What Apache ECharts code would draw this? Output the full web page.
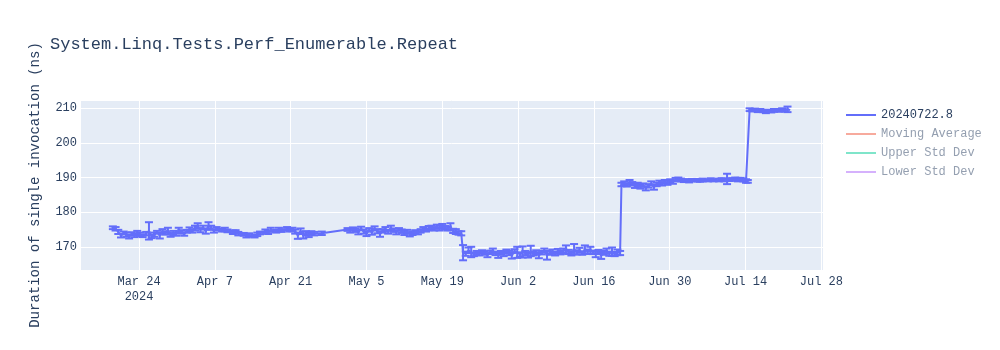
<!DOCTYPE html>
<html>
<head>
<meta charset="utf-8">
<script src="https://cdn.jsdelivr.net/npm/echarts@6/dist/echarts.min.js"></script>
<style>
html,body{margin:0;padding:0;background:#fff;}
#chart{width:1000px;height:350px;}
</style>
</head>
<body>
<div id="chart"></div>
<script>
// ---- DATA ----
const chartTitle = 'System.Linq.Tests.Perf_Enumerable.Repeat';
const yAxisTitle = 'Duration of single invocation (ns)';
const legendNames = ['20240722.8', 'Moving Average', 'Upper Std Dev', 'Lower Std Dev'];
const monthNames = ['Jan','Feb','Mar','Apr','May','Jun','Jul','Aug','Sep','Oct','Nov','Dec'];
const tickYear = '2024';

// timestamps "MM-DD HH" (2024)
const dates = [
 '03-19 04','03-19 16','03-20 04','03-20 16','03-21 04','03-21 16','03-22 04','03-22 16','03-23 04','03-23 16',
 '03-24 04','03-24 16','03-25 08','03-25 20','03-26 08','03-26 20','03-27 08','03-27 20','03-28 08','03-28 20',
 '03-29 08','03-29 20','03-30 08','03-30 20','03-31 08','03-31 20','04-01 08','04-01 20','04-02 08','04-02 20',
 '04-03 08','04-03 20','04-04 08','04-04 20','04-05 08','04-05 20','04-06 08','04-06 20','04-07 08','04-08 08',
 '04-08 20','04-09 08','04-10 08','04-10 20','04-11 08','04-12 08','04-12 20','04-13 08','04-14 08','04-14 20',
 '04-15 08','04-16 08','04-16 20','04-17 08','04-18 08','04-18 20','04-19 08','04-20 08','04-20 20','04-21 08',
 '04-21 20','04-22 08','04-22 20','04-23 08','04-23 20','04-24 08','04-24 20','04-25 08','04-26 18',
 '05-01 12','05-02 00','05-02 12','05-03 00','05-03 12','05-04 00','05-04 12','05-05 00','05-05 12','05-06 00',
 '05-06 12','05-07 00','05-07 12','05-08 00','05-08 12','05-09 00','05-09 12','05-10 00','05-10 12','05-11 00',
 '05-11 12','05-12 00','05-12 12','05-13 00','05-13 12','05-14 00','05-14 12','05-15 00','05-15 12','05-16 00',
 '05-16 12','05-17 00','05-17 12','05-18 00','05-18 12','05-19 00','05-19 12','05-20 00','05-20 12','05-21 00',
 '05-21 12','05-22 00','05-22 12','05-22 20','05-23 08','05-23 20','05-24 08','05-24 20','05-25 08','05-25 20',
 '05-26 08','05-26 20','05-27 08','05-27 20','05-28 08','05-28 20','05-29 08','05-29 20','05-30 08','05-30 20',
 '05-31 08','05-31 20','06-01 08','06-01 20','06-02 08','06-02 20','06-03 08','06-03 20','06-04 08','06-04 20',
 '06-05 08','06-05 20','06-06 08','06-06 20','06-07 08','06-07 20','06-08 08','06-08 20','06-09 08','06-09 20',
 '06-10 08','06-10 20','06-11 08','06-11 20','06-12 08','06-12 20','06-13 08','06-13 20','06-14 08','06-14 20',
 '06-15 08','06-15 20','06-16 08','06-16 20','06-17 08','06-17 20','06-18 08','06-18 20','06-19 08','06-19 20',
 '06-20 08','06-20 20','06-21 02','06-21 14','06-22 02','06-22 14','06-23 02','06-23 14','06-24 02','06-24 14',
 '06-25 02','06-25 14','06-26 02','06-26 14','06-27 02','06-27 14','06-28 02','06-28 14','06-29 02','06-29 14',
 '06-30 02','06-30 14','07-01 02','07-01 14','07-02 02','07-02 14','07-03 02','07-03 14','07-04 02','07-05 02',
 '07-05 14','07-06 02','07-07 02','07-07 14','07-08 02','07-09 02','07-09 14','07-10 02','07-10 14','07-11 02',
 '07-11 14','07-12 02','07-12 14','07-13 02','07-13 14','07-14 02','07-14 10','07-14 18','07-15 06','07-15 18',
 '07-16 06','07-16 18','07-17 06','07-17 18','07-18 06','07-18 18','07-19 06','07-19 18','07-20 06','07-20 18',
 '07-21 06','07-21 18','07-22 06'
];

const values = [
 175.5,175.2,174.3,173.2,174.0,173.5,172.9,173.8,173.3,174.0,
 173.6,173.2,173.8,174.6,173.0,173.5,174.2,173.2,174.5,174.0,
 174.8,173.4,174.0,173.6,174.9,174.3,173.7,174.5,175.0,174.6,
 175.4,176.0,174.8,175.6,174.4,176.2,175.5,174.6,175.2,174.8,
 175.0,174.6,174.2,174.4,173.8,173.6,173.2,173.4,173.1,173.6,
 174.0,174.5,174.2,174.9,174.5,175.0,174.7,175.2,174.8,175.0,
 174.4,173.2,174.5,173.4,173.9,173.5,174.0,173.8,173.9,
 175.0,174.6,175.2,174.8,174.2,175.3,174.4,173.8,174.9,174.1,
 175.4,174.5,173.7,174.6,175.1,174.3,175.5,174.8,174.2,175.0,
 174.5,174.0,174.4,173.6,173.9,174.3,174.0,174.6,175.2,174.8,
 175.4,175.6,175.2,175.8,175.4,176.0,175.5,175.3,175.8,174.6,
 174.4,174.0,173.9,168.3,168.0,169.0,168.5,167.8,168.2,168.0,
 168.6,168.2,167.6,168.4,168.9,168.1,167.5,168.3,167.9,168.7,
 168.2,167.4,168.8,168.4,167.8,168.5,168.2,167.6,168.8,168.0,
 168.4,167.5,168.3,168.9,167.6,168.2,168.6,168.0,168.7,168.3,
 168.9,169.2,168.5,168.0,169.3,168.4,169.0,168.2,169.2,168.6,
 169.0,168.4,167.8,168.5,167.5,168.3,168.8,168.0,168.6,167.9,
 168.4,168.2,188.0,188.3,187.9,188.6,188.2,187.6,188.0,187.4,
 187.8,186.9,187.6,188.3,187.2,188.0,188.5,188.2,188.8,188.5,
 189.0,188.7,189.4,189.6,189.3,189.1,189.2,189.0,189.3,189.2,
 189.1,189.3,189.2,189.4,189.2,189.3,189.5,189.3,189.6,189.4,
 189.5,189.6,189.4,189.5,189.3,189.0,188.9,209.6,209.4,209.6,
 209.3,209.5,209.2,209.0,209.3,209.1,209.4,209.5,209.3,209.6,
 209.4,209.7,209.5
];

const errors = [
 0.4,0.5,0.6,0.5,0.4,0.6,0.5,0.4,0.5,0.6,
 0.5,0.4,0.5,2.5,0.5,0.6,0.4,0.8,0.6,0.5,
 0.7,0.5,0.6,0.4,0.6,0.5,0.5,0.4,0.6,0.5,
 0.7,0.8,0.6,0.5,0.6,0.9,0.6,0.5,0.5,0.4,
 0.5,0.4,0.5,0.4,0.5,0.4,0.5,0.5,0.4,0.5,
 0.4,0.5,0.5,0.6,0.4,0.5,0.4,0.5,0.4,0.5,
 0.6,0.9,0.8,1.0,0.6,0.7,0.5,0.5,0.5,
 0.4,0.5,0.4,0.5,0.6,0.5,0.6,0.7,0.5,0.6,
 0.5,0.6,0.8,0.5,0.6,0.5,0.6,0.5,0.6,0.4,
 0.5,0.6,0.5,0.6,0.5,0.5,0.4,0.5,0.5,0.4,
 0.6,0.5,0.5,0.6,0.7,0.6,0.5,0.6,1.0,0.6,
 0.7,0.5,0.6,2.2,0.6,0.8,1.5,0.5,0.6,0.5,
 0.4,0.5,0.6,0.5,0.6,0.5,0.7,0.5,0.6,0.5,
 0.6,0.8,0.5,1.6,0.6,1.6,0.6,0.7,1.5,0.5,
 0.6,0.8,0.5,0.6,1.3,0.5,0.6,0.5,0.7,0.5,
 0.6,1.2,0.6,0.5,1.5,0.6,0.7,0.5,1.2,0.6,
 1.0,0.5,0.8,0.6,1.0,0.6,0.7,0.6,1.2,0.6,
 0.8,0.6,0.5,0.6,0.5,0.7,0.5,0.6,0.5,0.6,
 0.5,0.6,0.5,0.6,0.7,0.5,0.6,0.5,0.5,0.6,
 0.5,0.5,0.5,0.4,0.4,0.4,0.3,0.4,0.3,0.4,
 0.3,0.4,0.3,0.4,0.3,0.4,0.3,0.4,1.5,0.4,
 0.3,0.4,0.5,0.4,0.4,0.5,0.4,0.4,0.3,0.3,
 0.4,0.3,0.3,0.4,0.3,0.3,0.4,0.3,0.3,
 0.4,0.3,0.8
];

// ---- BUILD ----
const ORIGIN = Date.UTC(2024, 2, 24); // Mar 24 2024 (tick origin)
const DAY = 86400000;
function toDays(s) {
  const m = +s.slice(0,2), d = +s.slice(3,5), h = +s.slice(6,8);
  return (Date.UTC(2024, m-1, d, h) - ORIGIN) / DAY;
}
const pts = dates.map((s, i) => [toDays(s), values[i], errors[i]]);

const FONT = '"Liberation Mono", "Courier New", monospace';
const TXT = '#2a3f5f';
const MAIN = '#636efa';

const chart = echarts.init(document.getElementById('chart'), null, {renderer: 'canvas'});
chart.setOption({
  animation: false,
  backgroundColor: '#fff',
  title: {
    text: chartTitle, left: 50, top: 36, padding: 0,
    textStyle: {fontFamily: FONT, fontSize: 17, fontWeight: 'normal', color: TXT}
  },
  legend: {
    orient: 'vertical', left: 846, top: 108, padding: 0,
    itemWidth: 30, itemHeight: 2, itemGap: 5,
    icon: 'rect',
    textStyle: {fontFamily: FONT, fontSize: 12, color: TXT, lineHeight: 14, padding: [0,0,0,0]},
    selectedMode: false,
    data: [
      {name: legendNames[0], itemStyle: {color: MAIN}},
      {name: legendNames[1], itemStyle: {color: '#f7aa9d'}, textStyle: {color: '#949fb0'}},
      {name: legendNames[2], itemStyle: {color: '#7fe5ca'}, textStyle: {color: '#949fb0'}},
      {name: legendNames[3], itemStyle: {color: '#d5b1fc'}, textStyle: {color: '#949fb0'}}
    ]
  },
  grid: {left: 80, right: 177, top: 100, bottom: 80, show: true, backgroundColor: '#E5ECF6', borderWidth: 0},
  xAxis: {
    type: 'value', min: -10.9, max: 126.3, minInterval: 14, maxInterval: 14, splitNumber: 5,
    axisLine: {show: false}, axisTick: {show: false},
    splitLine: {show: true, lineStyle: {color: '#fff', width: 1}},
    axisLabel: {
      fontFamily: FONT, fontSize: 12, color: TXT, margin: 4, lineHeight: 15,
      showMinLabel: false, showMaxLabel: false,
      formatter: function (v) {
        const dt = new Date(ORIGIN + Math.round(v) * DAY);
        const s = monthNames[dt.getUTCMonth()] + ' ' + dt.getUTCDate();
        return Math.round(v) === 0 ? s + '\n' + tickYear : s;
      }
    }
  },
  yAxis: {
    type: 'value', min: 163.3, max: 212.4, splitNumber: 5,
    name: yAxisTitle, nameLocation: 'middle', nameGap: 38, nameRotate: 90,
    nameTextStyle: {fontFamily: FONT, fontSize: 14, color: TXT},
    axisLine: {show: false}, axisTick: {show: false},
    splitLine: {show: true, lineStyle: {color: '#fff', width: 1}},
    axisLabel: {fontFamily: FONT, fontSize: 12, color: TXT, margin: 3, showMinLabel: false, showMaxLabel: false}
  },
  series: [
    {
      name: legendNames[0], type: 'line', data: pts.map(p => [p[0], p[1]]),
      symbol: 'none', lineStyle: {color: MAIN, width: 2}, itemStyle: {color: MAIN}, z: 3
    },
    {
      name: 'errbars', type: 'custom', data: pts, z: 2,
      encode: {x: 0, y: [1]},
      renderItem: function (params, api) {
        const x = api.value(0), y = api.value(1), e = api.value(2);
        const top = api.coord([x, y + e]);
        const bot = api.coord([x, y - e]);
        const hw = 4;
        const st = {stroke: MAIN, lineWidth: 2};
        return {
          type: 'group', children: [
            {type: 'line', shape: {x1: top[0], y1: top[1], x2: bot[0], y2: bot[1]}, style: st},
            {type: 'line', shape: {x1: top[0]-hw, y1: top[1], x2: top[0]+hw, y2: top[1]}, style: st},
            {type: 'line', shape: {x1: bot[0]-hw, y1: bot[1], x2: bot[0]+hw, y2: bot[1]}, style: st}
          ]
        };
      }
    },
    {name: legendNames[1], type: 'line', data: [], symbol: 'none', lineStyle: {color: '#f7aa9d', width: 2}, itemStyle: {color: '#f7aa9d'}},
    {name: legendNames[2], type: 'line', data: [], symbol: 'none', lineStyle: {color: '#7fe5ca', width: 2}, itemStyle: {color: '#7fe5ca'}},
    {name: legendNames[3], type: 'line', data: [], symbol: 'none', lineStyle: {color: '#d5b1fc', width: 2}, itemStyle: {color: '#d5b1fc'}}
  ]
});
</script>
</body>
</html>
